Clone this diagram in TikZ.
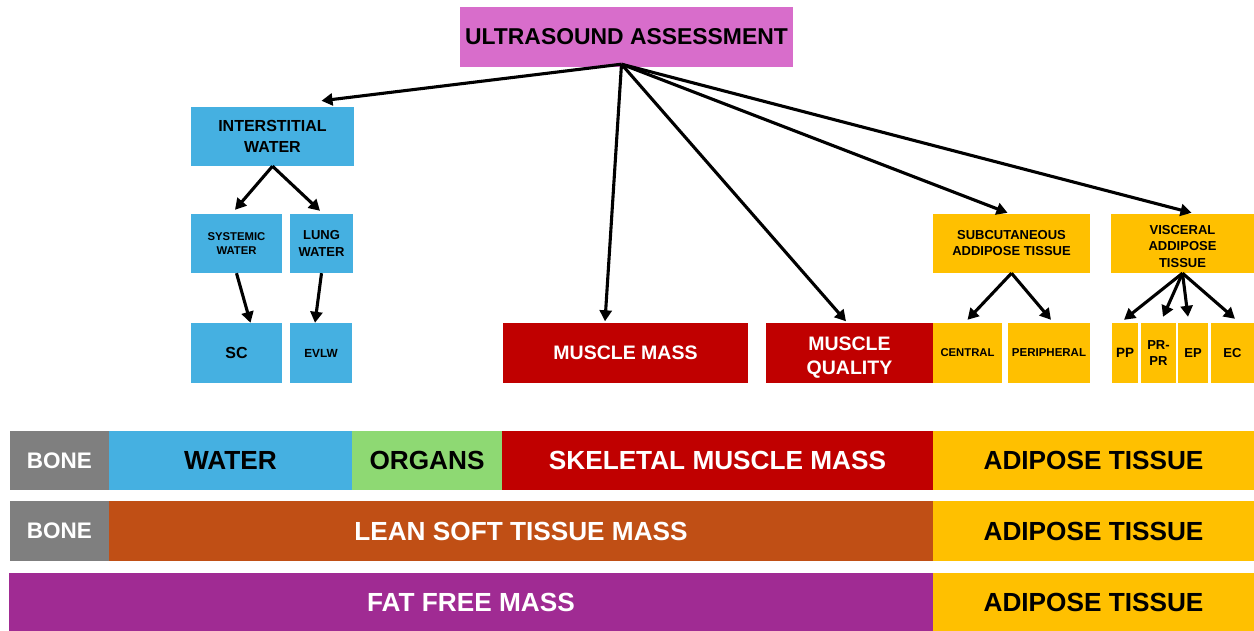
\documentclass[tikz,border=0pt]{standalone}
\usepackage{fontspec}
\setmainfont{Liberation Sans}
\usetikzlibrary{arrows.meta}
\definecolor{usviolet}{HTML}{D86DCB}
\definecolor{waterblue}{HTML}{45B0E1}
\definecolor{musclered}{HTML}{C00000}
\definecolor{fatyellow}{HTML}{FFC000}
\definecolor{bonegrey}{HTML}{7F7F7F}
\definecolor{organgreen}{HTML}{8ED973}
\definecolor{leanbrown}{HTML}{C04F15}
\definecolor{ffmpurple}{HTML}{A02B93}
\newcommand{\fsz}[2]{\fontsize{#1}{#2}\selectfont}

\begin{document}
\begin{tikzpicture}[x=1pt,y=-1pt,
  box/.style={inner sep=0pt,align=center},
  water/.style={box,fill=waterblue},
  muscle/.style={box,fill=musclered,text=white,font=\bfseries\fsz{19.5}{24}},
  fat/.style={box,fill=fatyellow},
  bar/.style={box,font=\bfseries\fsz{26.2}{30}},
  arr/.style={line width=3.1pt,-{Triangle[length=11pt,width=12pt]}}]
  \useasboundingbox (0,0) rectangle (1254,631);

  % top
  \node[at={(626.5,37)},box,fill=usviolet,minimum width=333pt,minimum height=60pt,
    font=\bfseries\fsz{22.9}{26}] (us) {ULTRASOUND ASSESSMENT};
  \coordinate (o) at ([xshift=-5pt,yshift=3pt]us.south);

  % water
  \node[at={(272.5,136.5)},water,minimum width=163pt,minimum height=59pt,
    font=\bfseries\fsz{16}{20.5}] (iw) {INTERSTITIAL\\WATER};
  \node[at={(236.5,243.5)},water,minimum width=91pt,minimum height=59pt,
    font=\bfseries\fsz{11.3}{14}] (sw) {SYSTEMIC\\WATER};
  \node[at={(321.5,243.5)},water,minimum width=63pt,minimum height=59pt,
    font=\bfseries\fsz{13}{17}] (lw) {LUNG\\WATER};
  \node[at={(236.5,353)},water,minimum width=91pt,minimum height=60pt,
    font=\bfseries\fsz{16}{19}] (sc) {SC};
  \node[at={(321,353)},water,minimum width=62pt,minimum height=60pt,
    font=\bfseries\fsz{11.8}{14}] (ev) {EVLW};

  % muscle
  \node[at={(625.5,353)},muscle,minimum width=245pt,minimum height=60pt] (mm) {MUSCLE MASS};
  \node[at={(849.5,353)},muscle,minimum width=167pt,minimum height=60pt] (mq) {};
  \node[at={([yshift=-4.5pt]mq.center)},box,text=white,font=\bfseries\fsz{19.5}{24}] (mqtext) {MUSCLE\\QUALITY};

  % adipose
  \node[at={(1011.5,243.5)},fat,minimum width=157pt,minimum height=59pt,
    font=\bfseries\fsz{13}{16}] (sat) {SUBCUTANEOUS\\ADDIPOSE TISSUE};
  \node[at={(1182.5,243.5)},fat,minimum width=143pt,minimum height=59pt] (vat) {};
  \node[at={([yshift=-3pt]vat.center)},box,font=\bfseries\fsz{13}{16.5}] (vattext) {VISCERAL\\ADDIPOSE\\TISSUE};
  \node[at={(967.5,353)},fat,minimum width=69pt,minimum height=60pt,
    font=\bfseries\fsz{11.3}{14}] (ce) {CENTRAL};
  \node[at={(1049,353)},fat,minimum width=82pt,minimum height=60pt,
    font=\bfseries\fsz{11.5}{14}] (pe) {PERIPHERAL};
  \node[at={(1125,353)},fat,minimum width=26pt,minimum height=60pt,
    font=\bfseries\fsz{13.5}{16}] (pp) {PP};
  \node[at={(1158.5,353)},fat,minimum width=35pt,minimum height=60pt,
    font=\bfseries\fsz{13}{16}] (pr) {PR-\\PR};
  \node[at={(1193,353)},fat,minimum width=30pt,minimum height=60pt,
    font=\bfseries\fsz{13}{16}] (ep) {EP};
  \node[at={(1232.5,353)},fat,minimum width=43pt,minimum height=60pt,
    font=\bfseries\fsz{13}{16}] (ec) {EC};

  % arrows
  \draw[arr] (o) -- ([xshift=49pt,yshift=6pt]iw.north);
  \draw[arr] (o) -- ([xshift=-20.5pt,yshift=1.5pt]mm.north);
  \draw[arr] (o) -- ([xshift=-3.5pt,yshift=1.5pt]mq.north);
  \draw[arr] (o) -- ([xshift=-4pt,yshift=1pt]sat.north);
  \draw[arr] (o) -- ([xshift=9pt,yshift=1pt]vat.north);
  \draw[arr] (iw.south) -- ([xshift=-1.5pt,yshift=4pt]sw.north);
  \draw[arr] (iw.south) -- ([xshift=-1.5pt,yshift=3pt]lw.north);
  \draw[arr] (sw.south) -- ([xshift=14pt]sc.north);
  \draw[arr] (lw.south) -- ([xshift=-6pt]ev.north);
  \draw[arr] (sat.south) -- ([yshift=3pt]ce.north);
  \draw[arr] (sat.south) -- ([xshift=2pt,yshift=3pt]pe.north);
  \draw[arr] (vat.south) -- ([xshift=-1pt,yshift=3pt]pp.north);
  \draw[arr] (vat.south) -- ([xshift=4.5pt,yshift=6pt]pr.north);
  \draw[arr] (vat.south) -- ([xshift=-5pt,yshift=6pt]ep.north);
  \draw[arr] (vat.south) -- ([xshift=2.5pt,yshift=4pt]ec.north);

  % bars
  %row 1
  \node[at={(59.5,460.5)},bar,fill=bonegrey,text=white,minimum width=99pt,minimum height=59pt,
    font=\bfseries\fsz{22.5}{26}] (bone1) {BONE};
  \node[at={(230.5,460.5)},bar,fill=waterblue,minimum width=243pt,minimum height=59pt] (wat) {WATER};
  \node[at={(427,460.5)},bar,fill=organgreen,minimum width=150pt,minimum height=59pt] (org) {ORGANS};
  \node[at={(717.5,460.5)},bar,fill=musclered,text=white,minimum width=431pt,minimum height=59pt] (smm) {SKELETAL MUSCLE MASS};
  \node[at={(1093.5,460.5)},bar,fill=fatyellow,minimum width=321pt,minimum height=59pt] (at1) {ADIPOSE TISSUE};
  %row 2
  \node[at={(59.5,531)},bar,fill=bonegrey,text=white,minimum width=99pt,minimum height=60pt,
    font=\bfseries\fsz{22.5}{26}] (bone2) {BONE};
  \node[at={(521,531)},bar,fill=leanbrown,text=white,minimum width=824pt,minimum height=60pt] (lstm) {LEAN SOFT TISSUE MASS};
  \node[at={(1093.5,531)},bar,fill=fatyellow,minimum width=321pt,minimum height=60pt] (at2) {ADIPOSE TISSUE};
  %row 3
  \node[at={(471,602)},bar,fill=ffmpurple,text=white,minimum width=924pt,minimum height=58pt] (ffm) {FAT FREE MASS};
  \node[at={(1093.5,602)},bar,fill=fatyellow,minimum width=321pt,minimum height=58pt] (at3) {ADIPOSE TISSUE};
\end{tikzpicture}
\end{document}
